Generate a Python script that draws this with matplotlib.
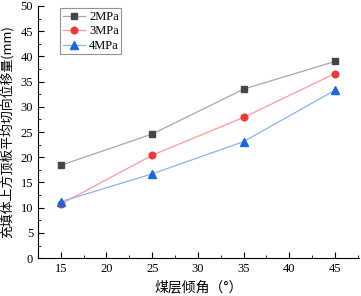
import matplotlib
matplotlib.use('Agg')
import matplotlib.pyplot as plt
from matplotlib.ticker import MultipleLocator

plt.rcParams['font.family'] = ['Liberation Serif', 'Noto Sans CJK SC']

angles = [15, 25, 35, 45]
disp_2mpa = [18.4, 24.6, 33.5, 39.0]
disp_3mpa = [10.7, 20.4, 27.9, 36.6]
disp_4mpa = [11.2, 16.7, 23.1, 33.3]

fig = plt.figure(figsize=(3.61, 2.96), dpi=100)
ax = fig.add_axes([0.105, 0.128, 0.889, 0.852])

ax.plot(angles, disp_2mpa, color='#a8a8a8', lw=0.9, marker='s', ms=4.2,
        mfc='#454545', mec='#454545', label='2MPa')
ax.plot(angles, disp_3mpa, color='#ff9a9a', lw=0.9, marker='o', ms=4.8,
        mfc='#f03838', mec='#f03838', label='3MPa')
ax.plot(angles, disp_4mpa, color='#8ab4f0', lw=0.9, marker='^', ms=5.2,
        mfc='#1a66e0', mec='#1a66e0', label='4MPa')

ax.set_xlim(12.5, 47.6)
ax.set_ylim(0, 50)
ax.xaxis.set_major_locator(MultipleLocator(5))
ax.xaxis.set_minor_locator(MultipleLocator(2.5))
ax.yaxis.set_major_locator(MultipleLocator(5))
ax.yaxis.set_minor_locator(MultipleLocator(2.5))
ax.tick_params(which='both', direction='in', labelsize=9)
ax.tick_params(which='major', length=4)
ax.tick_params(which='minor', length=2)
ax.spines['top'].set_visible(False)
ax.spines['right'].set_visible(False)

ax.set_xlabel('煤层倾角（°）', fontsize=10, family=['Noto Sans CJK SC', 'DejaVu Sans'])
ax.set_ylabel('充填体上方顶板平均切向位移量(mm)', fontsize=9.3,
              family=['Noto Sans CJK SC', 'DejaVu Sans'], labelpad=5)

leg = ax.legend(loc='upper left', bbox_to_anchor=(0.062, 1.0), fontsize=9,
                fancybox=False, edgecolor='#777777', handlelength=1.8,
                borderpad=0.2, labelspacing=0.2, handletextpad=0.3,
                borderaxespad=0.2)
leg.get_frame().set_linewidth(0.8)

fig.savefig('out.png', dpi=100)
